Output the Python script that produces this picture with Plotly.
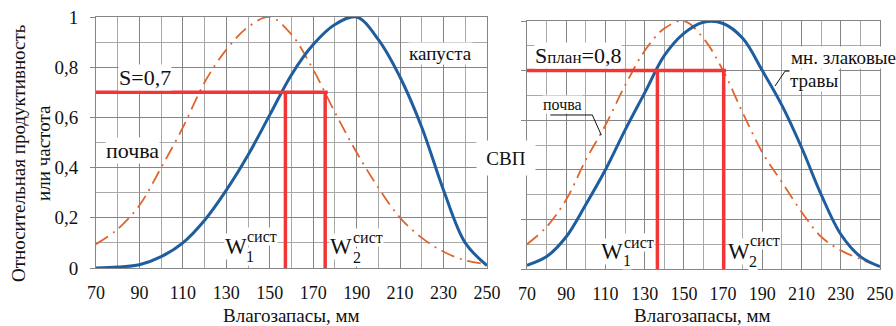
import plotly.graph_objects as go

# ---------------- data ----------------
moisture = [70, 80, 90, 100, 110, 120, 130, 140, 150, 160, 170, 180, 190, 200, 210, 220, 230, 240, 250]

# left panel
cabbage = [0.0, 0.004, 0.013, 0.045, 0.10, 0.19, 0.31, 0.45, 0.61, 0.77, 0.89, 0.97, 1.0, 0.91, 0.76, 0.56, 0.31, 0.10, 0.01]
soil_left = [0.095, 0.155, 0.25, 0.40, 0.56, 0.74, 0.87, 0.96, 1.0, 0.93, 0.79, 0.62, 0.46, 0.32, 0.20, 0.12, 0.065, 0.03, 0.015]
s_left = 0.7
w1_left = 157.2
w2_left = 175.5

# right panel
grass = [0.015, 0.05, 0.13, 0.26, 0.40, 0.56, 0.71, 0.86, 0.95, 0.995, 0.99, 0.93, 0.80, 0.66, 0.49, 0.30, 0.14, 0.05, 0.01]
soil_right = [0.10, 0.17, 0.28, 0.44, 0.58, 0.74, 0.88, 0.97, 1.0, 0.93, 0.80, 0.63, 0.47, 0.35, 0.23, 0.13, 0.075, 0.04, 0.01]
s_right = 0.8
w1_right = 136.5
w2_right = 170.3

W, H = 896, 326
SERIF = "Liberation Serif"
BLUE = "#1f5e9e"
ORANGE = "#e0652b"
RED = "#f23535"
GRID_MAJ = "#858585"
GRID_MIN = "#a9a9a9"

fig = go.Figure()


def add_panel(xa, ya, crop, soil, s, w1, w2):
    fig.add_trace(go.Scatter(x=moisture, y=soil, mode="lines", xaxis=xa, yaxis=ya,
                             line=dict(color=ORANGE, width=1.8, dash="14px,6px,2px,6px", shape="spline"),
                             showlegend=False, hoverinfo="skip"))
    fig.add_trace(go.Scatter(x=moisture, y=crop, mode="lines", xaxis=xa, yaxis=ya,
                             line=dict(color=BLUE, width=3, shape="spline"),
                             showlegend=False, hoverinfo="skip"))
    fig.add_trace(go.Scatter(x=[moisture[0], w2 + 1.2, None, w1, w1, None, w2, w2],
                             y=[s, s, None, 0, s, None, 0, s], mode="lines", xaxis=xa, yaxis=ya,
                             line=dict(color=RED, width=3.5), showlegend=False, hoverinfo="skip"))


add_panel("x", "y", cabbage, soil_left, s_left, w1_left, w2_left)
add_panel("x2", "y2", grass, soil_right, s_right, w1_right, w2_right)


def xaxis(domain, anchor):
    return dict(domain=domain, anchor=anchor, range=[70, 250], tick0=70, dtick=20,
                showgrid=True, gridcolor=GRID_MAJ, gridwidth=1, automargin=False,
                minor=dict(dtick=10, tick0=70, showgrid=True, gridcolor=GRID_MIN, gridwidth=1),
                showline=True, mirror=True, linecolor=GRID_MAJ, linewidth=1,
                ticks="", zeroline=False, ticklabelstandoff=8,
                tickfont=dict(family=SERIF, size=18, color="#111"))


def yaxis(domain, anchor, labels):
    return dict(domain=domain, anchor=anchor, range=[0, 1], tick0=0, dtick=0.2,
                showgrid=True, gridcolor=GRID_MAJ, gridwidth=1, automargin=False,
                minor=dict(dtick=0.1, tick0=0, showgrid=True, gridcolor=GRID_MIN, gridwidth=1),
                showline=True, mirror=True, linecolor=GRID_MAJ, linewidth=1,
                ticks="outside", ticklen=5, tickcolor=GRID_MAJ, zeroline=False,
                showticklabels=labels, ticklabelstandoff=8,
                tickfont=dict(family=SERIF, size=19, color="#111"))


fig.update_layout(
    width=W, height=H, margin=dict(l=0, r=0, t=0, b=0, autoexpand=False),
    paper_bgcolor="white", plot_bgcolor="white", separators=", ",
    xaxis=xaxis([96 / W, 487 / W], "y"),
    yaxis=yaxis([(H - 268) / H, (H - 17) / H], "x", True),
    xaxis2=xaxis([527 / W, 880 / W], "y2"),
    yaxis2=yaxis([(H - 269) / H, (H - 21) / H], "x2", False),
)

anns = []


def ann(text, px, py, size, xanchor="center", bg="white", **kw):
    d = dict(text=text, x=px / W, y=1 - py / H, xref="paper", yref="paper",
             xanchor=xanchor, yanchor="middle", showarrow=False,
             font=dict(family=SERIF, size=size, color="#111"), bgcolor=bg, borderpad=0)
    d.update(kw)
    anns.append(d)


# axis titles
ann("Относительная продуктивность<br>или частота", 31, 153, 19, bg="rgba(0,0,0,0)", textangle=-90)
ann("Влагозапасы, мм", 291, 315, 19, bg="rgba(0,0,0,0)")
ann("Влагозапасы, мм", 702, 315, 19, bg="rgba(0,0,0,0)")

# left panel labels
ann("S=0,7", 145, 78, 22)
ann("почва", 132, 150, 22)
ann("капуста", 440, 54, 19)
ann("W", 236, 247, 23)
ann("1", 250, 256, 16)
ann("сист", 262, 236, 16)
ann("W", 341, 247, 23)
ann("2", 357, 257, 16)
ann("сист", 368, 237, 16)

# centre label
ann("СВП", 506, 158, 19, width=58, height=34)

# right panel labels
ann("S<span style='font-size:17px'>план</span>=0,8", 534, 55, 22, xanchor="left")
ann("мн. злаковые", 790, 57, 19, xanchor="left")
ann("травы", 789, 80, 19, xanchor="left")
ann("почва", 562, 105, 16)
ann("W", 612, 251, 23)
ann("1", 627, 260, 16)
ann("сист", 639, 242, 16)
ann("W", 739, 251, 23)
ann("2", 753, 261, 16)
ann("сист", 765, 241, 16)

fig.update_layout(annotations=anns)

# leader lines (right panel)
leader = dict(color="#111", width=1)
fig.add_shape(type="path", xref="x2", yref="y2", path="M 227,0.798 L 201.6,0.798 L 196.5,0.738", line=leader)
fig.add_shape(type="path", xref="x2", yref="y2", path="M 81.9,0.621 L 103.3,0.621 L 107.9,0.54", line=leader)

# remove the browser's default 8px page margin so the figure sits at the window's corner
fig.write_html("out.html", config={"displayModeBar": False},
               post_script="document.body.style.margin='0';document.body.style.overflow='hidden';")
